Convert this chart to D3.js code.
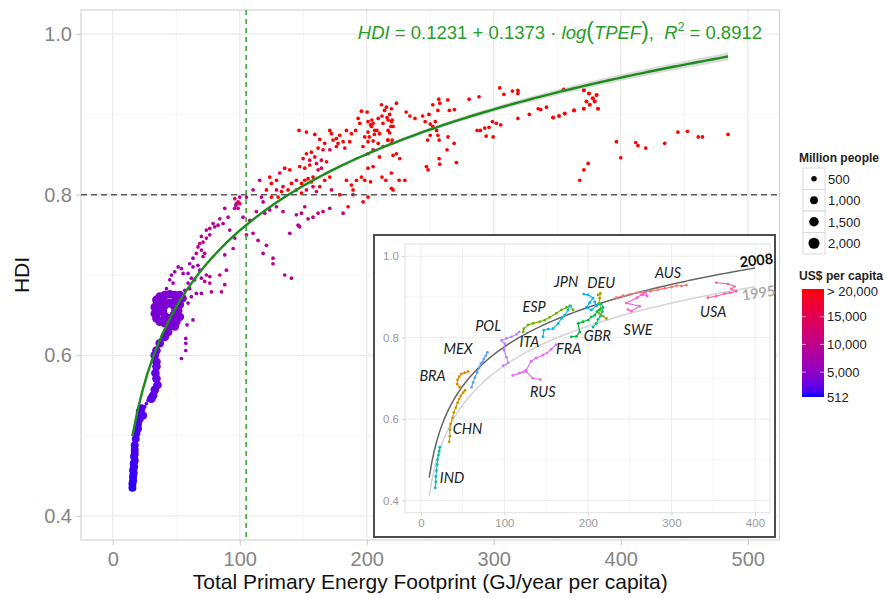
<!DOCTYPE html>
<html>
<head>
<meta charset="utf-8">
<script src="https://cdn.jsdelivr.net/npm/d3@7"></script>
<style>
  body { margin: 0; background: #fff; }
  svg { display: block; font-family: "Liberation Sans", Arial, sans-serif; }
</style>
</head>
<body>
<svg id="chart" width="885" height="598"></svg>
<script>
// ---- main scatter, grouped by income band: [TPEF, HDI] ----
const rich = [
  [304.7,0.933],[308,0.925],[314.7,0.929],[319,0.930],[319,0.926],[280.6,0.919],[288.4,0.922],[256.7,0.919],
  [263.8,0.918],[265,0.905],[256,0.905],[269,0.906],[252,0.912],[257.5,0.914],[223.4,0.914],[211.6,0.912],
  [215.5,0.909],[219.4,0.907],[214,0.905],[204,0.893],[203,0.887],[206,0.875],[202,0.872],[205,0.867],
  [209,0.895],[212,0.898],[216,0.896],[218,0.900],[220,0.893],[219,0.885],[218,0.877],[220,0.868],
  [216.5,0.868],[231,0.903],[234,0.898],[238,0.895],[244,0.898],[246,0.891],[249,0.900],[254,0.891],
  [252,0.885],[250,0.888],[255,0.880],[250,0.874],[248,0.868],[256,0.874],[257,0.868],[264,0.872],
  [268.8,0.864],[263.2,0.856],[257,0.845],[257.5,0.838],[270.6,0.840],[247,0.835],[248.3,0.831],[286.9,0.880],
  [289.5,0.880],[292.9,0.883],[296.3,0.884],[299,0.891],[302,0.889],[305.5,0.887],[294,0.873],[299.5,0.872],
  [367.7,0.818],[371,0.831],[374.3,0.839],[396.6,0.866],[400,0.846],[411.8,0.865],[413.6,0.861],[419.7,0.858],
  [434.6,0.864],[445,0.878],[452.5,0.879],[461,0.872],[464.3,0.872],[484.5,0.875],
  [194.5,0.889],[198.4,0.872],[201,0.866],[203.7,0.885],[205,0.889],[206.3,0.880],[197,0.860],[201,0.851],
  [205,0.856],[209,0.864],[210,0.847],[212.8,0.860],[216.8,0.868],[219.4,0.864],[220.7,0.849],[223.4,0.851],
  [226,0.845],[201,0.833],[205,0.835],[212,0.822],[215,0.818],[219.4,0.827],[219.4,0.808],[220.7,0.806],
  [225.5,0.818],[230,0.818],[203,0.816],[208,0.880],[210,0.876],[216.8,0.880],[220.7,0.885],[212.8,0.889],
  [216.8,0.893],[219.4,0.891],
  [146.7,0.880],[152.5,0.878],[159.1,0.875],[163,0.869],[166.9,0.864],[170.9,0.880],[172.2,0.876],[173.5,0.868],
  [176.1,0.870],[178.7,0.874],[177.4,0.864],[181.4,0.866],[184,0.880],[187.9,0.876],[191.3,0.880],[193.2,0.895],
  [195.8,0.904],[200.3,0.903],[201,0.891],[201,0.878],[186.6,0.866],[182.7,0.858],[176.1,0.860],[165.6,0.856],
  [161.7,0.858],[156.4,0.853],[152.5,0.851],[159.1,0.847],[149.9,0.845],[147.2,0.835],[151.2,0.833],[155.1,0.837],
  [168.3,0.841],[157.7,0.822],[153.8,0.820],[156.4,0.816],[151.2,0.818],[148.6,0.814],[139.4,0.831],[135.4,0.833],
  [128.9,0.818],[123.6,0.822],[124.9,0.814],[138,0.806],[140.7,0.814],[144.6,0.806],[148.6,0.802],[163,0.810],
  [166.9,0.818],[170.9,0.822],[178.7,0.800],[184,0.818],[187.9,0.812],[189.2,0.806],[191.9,0.818],[195.8,0.822],
  [198.4,0.818],[201,0.797],[197.1,0.791],[189.2,0.800],[185.3,0.785],[124.9,0.797],[130.2,0.797],[132.8,0.804],
  [121,0.806]
];
const japanLike = [[319,0.895],[328,0.900],[335,0.907],[337,0.906],[341.5,0.909]];
const upper = [
  [170.9,0.856],[155.1,0.843],[160.4,0.839],[164.3,0.843],[164.3,0.833],[161.7,0.831],[144.6,0.818],[131.5,0.827],
  [128.9,0.806],[134.1,0.810],[152.5,0.806],[157.7,0.810],[160.4,0.804],[172.2,0.806],[96.1,0.795],[98.7,0.791],
  [100,0.789]
];
const middle = [
  [181.4,0.777],[170.9,0.783],[165.6,0.779],[161.7,0.777],[157.7,0.772],[153.8,0.770],[151.2,0.785],[148.6,0.777],
  [144.6,0.775],[145.9,0.762],[147.2,0.760],[134.1,0.779],[128.9,0.785],[123.6,0.781],[119.7,0.777],[117.1,0.797],
  [115.7,0.818],[110.5,0.806],[105.3,0.797],[100,0.797],[97.4,0.789],[96,0.783],[102.6,0.772],[107.9,0.768],
  [113.1,0.779],[118.4,0.791],
  [135.4,0.700],[140.7,0.696],[126.2,0.721],[126.2,0.714],[146.7,0.761],[139.4,0.752],[121,0.737],[118.4,0.727],
  [114.4,0.743],[105.3,0.750],[110.5,0.752],
  [96.9,0.787],[98.7,0.783],[88.2,0.783],[90.8,0.772],[84.3,0.770],[86.9,0.764],[82.9,0.762],[80.3,0.760],
  [79,0.764],[76.4,0.758],[73.7,0.756],[69.8,0.748],[73.7,0.746],[76.4,0.750],[71.1,0.741],[68.5,0.739],
  [67.1,0.735],[69.8,0.731],[72.4,0.727],[71.1,0.723],[65.8,0.727],[88.2,0.725],[89.5,0.706],[94.8,0.733],
  [88.2,0.688],[85.6,0.679],[96.1,0.746],[92.1,0.756],[84.3,0.700],[76.4,0.698],[73.7,0.700],[72.4,0.692],
  [76.4,0.690],[77.7,0.679]
];
const lower = [
  [63.2,0.721],[60.6,0.714],[63.2,0.710],[67.1,0.712],[68.5,0.706],[54.1,0.708],[51.5,0.710],[48.8,0.704],
  [46.2,0.700],[44.9,0.694],[47.5,0.690],[42.3,0.683],[55.4,0.702],[59.3,0.702],[61.9,0.696],[59.3,0.690],
  [64.5,0.694],[69.8,0.696],[65.8,0.677],[61.9,0.673],[56.7,0.681],[60.6,0.683],[69.8,0.677],
  [59.3,0.665],[63.2,0.644],[58.5,0.638],[57.5,0.621],[57.5,0.615],[57.5,0.606],[54.1,0.596]
];
const poor = [[26.5,0.540],[25.2,0.536],[27.8,0.544],[23.9,0.531]];

// band GDP per capita (US$) and population (million)
const bandGdp = [24000, 26000, 15000, 9500, 6500, 2800];
const bandPop = [30, 127, 30, 30, 40, 60];

// big countries: [TPEF, HDI, GDP]
const usa = [
  [346.7,0.896,38000],[351.4,0.898,38000],[355.9,0.901,38000],[363.2,0.905,38000],[370.9,0.907,38000],
  [375.6,0.912,38000],[382.1,0.907,38000],[371,0.930,38000],[375,0.926,38000],[378,0.920,38000],
  [381,0.924,38000],[379.5,0.916,38000],[373,0.916,38000],[355,0.931,38000]
];
const china = [
  [34.4,0.669,4000],[37,0.673,4000],[41,0.675,4000],[44.9,0.676,4000],[48.8,0.675,4000],[52.8,0.675,4000],
  [54.9,0.671,4000],[33.1,0.660,3900],[33.1,0.652,3900],[34.4,0.646,3900],[37,0.642,3900],[41,0.640,3900],
  [46.2,0.640,3900],[50.1,0.642,3900],[52.8,0.648,3900],[51.5,0.656,3900],[37,0.662,4000],[39.6,0.667,4000],
  [48.8,0.667,4000],[52.8,0.663,4000],[35.7,0.654,3900],[47.5,0.648,3900],[42.3,0.642,3800],[44.9,0.636,3700],
  [48.8,0.636,3700],[43.6,0.629,3600],[41,0.623,3400],[37,0.615,3300],[34.4,0.606,3100],[33.1,0.600,3000],
  [34.4,0.592,2900],[34.4,0.586,2800],[33.6,0.578,2700],[34.4,0.571,2600],[35.2,0.563,2500],[33.1,0.557,2400],
  [31.8,0.550,2300],[30.4,0.546,2200],
  [39.5,0.656,4000],[49.5,0.656,4000],[44.5,0.665,4000],[44.5,0.646,3900],[41,0.662,4000],[48,0.662,4000],
  [41,0.649,3900],[48,0.650,3900]
];
const india = [
  [22.6,0.534,2100],[21.3,0.530,2000],[23.9,0.525,2000],[21.3,0.521,1900],[19.9,0.515,1800],[19.9,0.509,1700],
  [18.6,0.503,1700],[18.1,0.496,1600],[17.3,0.488,1500],[17.3,0.482,1500],[17.3,0.477,1400],[16.8,0.474,1400],
  [17.3,0.469,1300],[16.5,0.465,1300],[16.8,0.461,1200],[16,0.457,1200],[16.5,0.453,1100],[16,0.449,1100],
  [16,0.444,1000],[15.5,0.440,1000],[15.5,0.435,900]
];
const chinaPop = 1250, indiaPop = 1050, usaPop = 285;

// fit HDI = a + b*ln(TPEF)
const fitCoef = [0.1231, 0.1373];
const fitRange = [15.5, 484.5];
const xMajor = [0, 100, 200, 300, 400, 500];
const xMinor = [50, 150, 250, 350, 450];
const yMajor = [0.4, 0.6, 0.8, 1.0];
const yMinor = [0.5, 0.7, 0.9];

const sizeKeys = [500, 1000, 1500, 2000];
const colourKeys = [20000, 15000, 10000, 5000, 512];
const colourKeyLabels = ["> 20,000", "15,000", "10,000", "5,000", "512"];

// ---- inset: country trajectories 1995-2008 ----
const AUS = [[234,0.898],[242,0.903],[250,0.906],[258,0.910],[266,0.912],[275,0.914],[284,0.918],[292,0.921],[300,0.924],[306,0.928],[312,0.927],[318,0.929]];
const BRA = [[46.7,0.678],[43.5,0.686],[43.9,0.696],[45.9,0.704],[48.6,0.711],[52.6,0.714],[56.6,0.717]];
const CHN = [[33.9,0.544],[34.7,0.558],[34.7,0.574],[35.5,0.588],[37.9,0.603],[39.5,0.616],[41.9,0.628],[43.9,0.640],[45.9,0.649],[47.8,0.657],[50.6,0.665],[53,0.671]];
const DEU = [[222.1,0.847],[218.1,0.853],[213.3,0.860],[216.1,0.872],[213.3,0.884],[214.1,0.897],[214.9,0.909],[212.1,0.905]];
const ESP = [[122.4,0.814],[123.2,0.822],[128.4,0.831],[134.4,0.835],[142.3,0.839],[148.3,0.843],[154.3,0.850],[162.3,0.860],[168.3,0.868],[174.2,0.874],[179,0.878],[182.2,0.868]];
const FRA = [[180.2,0.802],[186.2,0.803],[190.2,0.814],[188.2,0.835],[194.2,0.839],[200.2,0.843],[204.1,0.851],[208.1,0.855],[210.9,0.864],[214.1,0.869]];
const GBR = [[206.1,0.826],[210.1,0.835],[212.1,0.845],[214.9,0.853],[217.3,0.864],[218.1,0.874],[216.1,0.883],[211,0.880]];
const IND = [[17.1,0.431],[17.9,0.446],[17.9,0.459],[18.7,0.473],[19.5,0.488],[19.9,0.500],[21.1,0.512],[21.9,0.521],[22.7,0.531]];
const ITA = [[146.3,0.802],[147.1,0.818],[152.3,0.821],[158.3,0.822],[164.3,0.835],[168.3,0.847],[172.2,0.855],[176.2,0.868],[178.2,0.878]];
const JPN = [[195,0.907],[200.2,0.905],[206.1,0.897],[202.2,0.886],[198.2,0.874],[204.1,0.868],[210.1,0.878],[208.1,0.888]];
const MEX = [[60.6,0.678],[62.6,0.690],[64.6,0.702],[67.4,0.715],[69.8,0.726],[71.8,0.736],[73.8,0.740],[75.4,0.748],[77.8,0.756],[79.7,0.764]];
const POL = [[98.5,0.731],[104.5,0.738],[102.5,0.752],[99.7,0.769],[100.5,0.785],[96.5,0.793],[102.5,0.798],[108.5,0.802],[114.4,0.808],[117.6,0.814]];
const RUS = [[143,0.697],[134,0.700],[126,0.717],[110,0.707],[118,0.713],[126,0.720],[132,0.742],[138,0.750],[146,0.757],[151,0.762],[156,0.771],[162,0.783]];
const SWE = [[248,0.869],[252,0.865],[262,0.877],[246,0.885],[259,0.898],[264,0.905],[269,0.911],[271,0.902],[266,0.906]];
const USA = [[343.7,0.898],[353.7,0.902],[363.6,0.908],[369.6,0.910],[377.6,0.914],[371.7,0.920],[375.6,0.926],[367.6,0.932],[353.7,0.935]];

const trackData  = [AUS, BRA, CHN, DEU, ESP, FRA, GBR, IND, ITA, JPN, MEX, POL, RUS, SWE, USA];
const trackColours = ["#F8766D","#E58700","#C99800","#A3A500","#6BB100","#00BA38","#00BF7D","#00C0AF",
                      "#00BCD8","#00B0F6","#619CFF","#B983FF","#E76BF3","#FD61D1","#FF67A4"];
// label anchor in inset data units
const insetLabels = [
  ["IND",37.3,0.455],["CHN",55.9,0.575],["BRA",14,0.707],["MEX",44.6,0.773],["POL",80.5,0.829],
  ["ESP",135.5,0.876],["ITA",130,0.791],["JPN",174,0.937],["DEU",216,0.934],["GBR",211.3,0.805],
  ["FRA",177,0.772],["RUS",146,0.666],["SWE",260,0.820],["AUS",296,0.960],["USA",350,0.864]
];
const curve2008 = [0.1346, 0.1396];
const curve1995 = [0.0886, 0.1396];
const curveRange = [10, 400];
const insetXTicks = [0, 100, 200, 300, 400];
const insetXMinor = [50, 150, 250, 350];

// ---------------------------------------------------------------
const svg = d3.select("#chart");

const x = d3.scaleLinear().domain([-25, 525]).range([81, 779.5]);
const y = d3.scaleLinear().domain([0.37, 1.03]).range([540, 10]);
const colour = d3.scaleLinear().domain([512, 20000]).range(["#0000ff", "#ff0000"])
                 .interpolate(d3.interpolateLab).clamp(true);
const size = d3.scaleSqrt().domain([0, 2000]).range([0, 5.5]);
const radius = p => Math.max(1.85, size(p));

const [x0, x1] = x.range();
const [yb, yt] = y.range();

// grid
const grid = svg.append("g");
grid.selectAll(".vmin").data(xMinor).join("line")
    .attr("x1", d => x(d)).attr("x2", d => x(d)).attr("y1", yt).attr("y2", yb)
    .attr("stroke", "#f4f4f4").attr("stroke-width", 1);
grid.selectAll(".hmin").data(yMinor).join("line")
    .attr("x1", x0).attr("x2", x1).attr("y1", d => y(d)).attr("y2", d => y(d))
    .attr("stroke", "#f4f4f4").attr("stroke-width", 1);
grid.selectAll(".vmaj").data(xMajor).join("line")
    .attr("x1", d => x(d)).attr("x2", d => x(d)).attr("y1", yt).attr("y2", yb)
    .attr("stroke", "#ebebeb").attr("stroke-width", 1.3);
grid.selectAll(".hmaj").data(yMajor).join("line")
    .attr("x1", x0).attr("x2", x1).attr("y1", d => y(d)).attr("y2", d => y(d))
    .attr("stroke", "#ebebeb").attr("stroke-width", 1.3);
svg.append("rect").attr("x", x0).attr("y", yt).attr("width", x1 - x0).attr("height", yb - yt)
   .attr("fill", "none").attr("stroke", "#d4d4d4").attr("stroke-width", 1.2);

// axes
const xAxis = svg.append("g").attr("transform", `translate(0,${yb})`)
  .call(d3.axisBottom(x).tickValues(xMajor).tickSize(5).tickPadding(7));
const yAxis = svg.append("g").attr("transform", `translate(${x0},0)`)
  .call(d3.axisLeft(y).tickValues(yMajor).tickFormat(d3.format(".1f")).tickSize(5).tickPadding(4));
[xAxis, yAxis].forEach(a => {
  a.select(".domain").remove();
  a.selectAll(".tick line").attr("stroke", "#c8c8c8");
  a.selectAll(".tick text").attr("fill", "#858585").attr("font-size", 20)
   .attr("font-family", "Liberation Sans, Arial, sans-serif");
});

svg.append("text").attr("x", (x0 + x1) / 2).attr("y", 589).attr("text-anchor", "middle")
   .attr("font-size", 21).attr("fill", "#111").text("Total Primary Energy Footprint (GJ/year per capita)");
svg.append("text").attr("transform", `translate(29,${(yt + yb) / 2}) rotate(-90)`)
   .attr("text-anchor", "middle").attr("font-size", 21).attr("fill", "#111").text("HDI");

// points
const bands = [rich, japanLike, upper, middle, lower, poor];
const pts = [];
bands.forEach((b, i) => b.forEach(p => pts.push({ tpef: p[0], hdi: p[1], gdp: bandGdp[i], pop: bandPop[i] })));
usa.forEach(p => pts.push({ tpef: p[0], hdi: p[1], gdp: p[2], pop: usaPop }));
india.forEach(p => pts.push({ tpef: p[0], hdi: p[1], gdp: p[2], pop: indiaPop }));
china.forEach(p => pts.push({ tpef: p[0], hdi: p[1], gdp: p[2], pop: chinaPop }));

svg.append("g").selectAll("circle").data(pts).join("circle")
   .attr("cx", d => x(d.tpef)).attr("cy", d => y(d.hdi))
   .attr("r", d => radius(d.pop)).attr("fill", d => colour(d.gdp));

// reference lines
svg.append("line").attr("x1", x0).attr("x2", x1).attr("y1", y(0.8)).attr("y2", y(0.8))
   .attr("stroke", "#595959").attr("stroke-width", 1.6).attr("stroke-dasharray", "6,4");
svg.append("line").attr("x1", x(105)).attr("x2", x(105)).attr("y1", yt).attr("y2", yb)
   .attr("stroke", "#3aa63a").attr("stroke-width", 1.6).attr("stroke-dasharray", "5,4");

// fit curve + confidence band
const fitX = d3.range(fitRange[0], fitRange[1] + 0.01, (fitRange[1] - fitRange[0]) / 120);
const fitY = t => fitCoef[0] + fitCoef[1] * Math.log(t);
const halfW = t => 0.0012 + 0.0038 * Math.pow((Math.log(t) - 4.6) / 1.6, 2);
svg.append("path").datum(fitX)
   .attr("d", d3.area().x(d => x(d)).y0(d => y(fitY(d) - halfW(d))).y1(d => y(fitY(d) + halfW(d))))
   .attr("fill", "#999").attr("opacity", 0.35);
svg.append("path").datum(fitX)
   .attr("d", d3.line().x(d => x(d)).y(d => y(fitY(d))))
   .attr("fill", "none").attr("stroke", "#1c8c1c").attr("stroke-width", 2.4);

// equation
const eq = svg.append("text").attr("x", 762).attr("y", 39).attr("text-anchor", "end")
  .attr("font-size", 18.5).attr("fill", "#2a9d2a");
[["HDI", true], [" = 0.1231 + 0.1373 \u00b7 ", false], ["log", true]].forEach(([t, it]) =>
  eq.append("tspan").attr("font-style", it ? "italic" : "normal").text(t));
eq.append("tspan").attr("font-size", 23).text("(");
eq.append("tspan").attr("font-style", "italic").text("TPEF");
eq.append("tspan").attr("font-size", 23).text(")");
eq.append("tspan").text(",\u00a0\u00a0");
eq.append("tspan").attr("font-style", "italic").text("R");
eq.append("tspan").attr("font-size", 12).attr("dy", -8).text("2");
eq.append("tspan").attr("dy", 8).text(" = 0.8912");

// ---- legends ----
const lg = svg.append("g").attr("font-size", 13).attr("fill", "#222");
lg.append("text").attr("x", 799).attr("y", 162).attr("font-weight", "bold").attr("font-size", 12)
  .text("Million people");
sizeKeys.forEach((k, i) => {
  const top = 168 + i * 21.5;
  lg.append("rect").attr("x", 803).attr("y", top).attr("width", 22).attr("height", 21.5)
    .attr("fill", "#fff").attr("stroke", "#d9d9d9");
  lg.append("circle").attr("cx", 814).attr("cy", top + 10.75).attr("r", size(k)).attr("fill", "#000");
  lg.append("text").attr("x", 828).attr("y", top + 15.5).text(d3.format(",")(k));
});

lg.append("text").attr("x", 799).attr("y", 280).attr("font-weight", "bold").attr("font-size", 12)
  .attr("textLength", 84).attr("lengthAdjust", "spacingAndGlyphs").text("US$ per capita");
const barTop = 289, barBot = 397;
const cbar = d3.scaleLinear().domain([512, 20000]).range([barBot, barTop]);
const grad = svg.append("defs").append("linearGradient").attr("id", "gdpGrad")
  .attr("x1", 0).attr("x2", 0).attr("y1", 1).attr("y2", 0);
d3.range(0, 1.001, 0.05).forEach(t => {
  grad.append("stop").attr("offset", t).attr("stop-color", colour(512 + t * (20000 - 512)));
});
lg.append("rect").attr("x", 802).attr("y", barTop).attr("width", 22).attr("height", barBot - barTop)
  .attr("fill", "url(#gdpGrad)");
colourKeys.forEach((k, i) => {
  const yy = cbar(k);
  if (i > 0 && i < colourKeys.length - 1) {
    lg.append("line").attr("x1", 802).attr("x2", 806).attr("y1", yy).attr("y2", yy).attr("stroke", "#fff").attr("opacity", 0.6);
    lg.append("line").attr("x1", 820).attr("x2", 824).attr("y1", yy).attr("y2", yy).attr("stroke", "#fff").attr("opacity", 0.6);
  }
  lg.append("text").attr("x", 827).attr("y", i === 0 ? yy + 7 : yy + 4.5).text(colourKeyLabels[i]);
});

// ---- inset ----
const ins = svg.append("g");
ins.append("rect").attr("x", 374).attr("y", 235).attr("width", 401).attr("height", 302)
   .attr("fill", "#fff").attr("stroke", "#4d4d4d").attr("stroke-width", 2);

const ix = d3.scaleLinear().domain([-19, 418]).range([405, 770]);
const iy = d3.scaleLinear().domain([0.37, 1.03]).range([512.7, 244]);
const [ix0, ix1] = ix.range();
const [iyb, iyt] = iy.range();

ins.selectAll(".ivmin").data(insetXMinor).join("line")
   .attr("x1", d => ix(d)).attr("x2", d => ix(d)).attr("y1", iyt).attr("y2", iyb).attr("stroke", "#f4f4f4");
ins.selectAll(".ihmin").data(yMinor).join("line")
   .attr("x1", ix0).attr("x2", ix1).attr("y1", d => iy(d)).attr("y2", d => iy(d)).attr("stroke", "#f4f4f4");
ins.selectAll(".ivmaj").data(insetXTicks).join("line")
   .attr("x1", d => ix(d)).attr("x2", d => ix(d)).attr("y1", iyt).attr("y2", iyb).attr("stroke", "#ebebeb");
ins.selectAll(".ihmaj").data(yMajor).join("line")
   .attr("x1", ix0).attr("x2", ix1).attr("y1", d => iy(d)).attr("y2", d => iy(d)).attr("stroke", "#ebebeb");
ins.append("rect").attr("x", ix0).attr("y", iyt).attr("width", ix1 - ix0).attr("height", iyb - iyt)
   .attr("fill", "none").attr("stroke", "#e2e2e2");

const ixAxis = ins.append("g").attr("transform", `translate(0,${iyb})`)
  .call(d3.axisBottom(ix).tickValues(insetXTicks).tickSize(3).tickPadding(3));
const iyAxis = ins.append("g").attr("transform", `translate(${ix0},0)`)
  .call(d3.axisLeft(iy).tickValues(yMajor).tickFormat(d3.format(".1f")).tickSize(3).tickPadding(3));
[ixAxis, iyAxis].forEach(a => {
  a.select(".domain").remove();
  a.selectAll(".tick line").attr("stroke", "#d0d0d0");
  a.selectAll(".tick text").attr("fill", "#9a9a9a").attr("font-size", 11.5)
   .attr("font-family", "Liberation Sans, Arial, sans-serif");
});

const cX = d3.range(curveRange[0], curveRange[1] + 0.01, 3);
const logCurve = c => d3.line().x(d => ix(d)).y(d => iy(c[0] + c[1] * Math.log(d)));
ins.append("path").datum(cX).attr("d", logCurve(curve1995))
   .attr("fill", "none").attr("stroke", "#d4d4d4").attr("stroke-width", 1.5);
ins.append("path").datum(cX).attr("d", logCurve(curve2008))
   .attr("fill", "none").attr("stroke", "#666").attr("stroke-width", 1.5);

trackData.forEach((pts, i) => {
  const g = ins.append("g");
  g.append("path").datum(pts)
   .attr("d", d3.line().x(d => ix(d[0])).y(d => iy(d[1])))
   .attr("fill", "none").attr("stroke", trackColours[i]).attr("stroke-width", 1.1);
  g.selectAll("circle").data(pts).join("circle")
   .attr("cx", d => ix(d[0])).attr("cy", d => iy(d[1])).attr("r", 1.4).attr("fill", trackColours[i]);
});

ins.selectAll(".clab").data(insetLabels).join("text")
   .attr("x", d => ix(d[1])).attr("y", d => iy(d[2])).attr("dy", "0.36em")
   .attr("text-anchor", "middle").attr("font-family", "Lato, 'Open Sans', sans-serif")
   .attr("font-style", "italic").attr("font-size", 14.5).attr("fill", "#1e1e1e")
   .text(d => d[0]);

ins.append("text").attr("transform", `translate(${ix(401.6)},${iy(0.99)}) rotate(-6)`)
   .attr("dy", "0.36em").attr("text-anchor", "middle").attr("font-family", "Lato, sans-serif")
   .attr("font-weight", "bold").attr("font-size", 14.5).attr("fill", "#111").text("2008");
ins.append("text").attr("transform", `translate(${ix(404.3)},${iy(0.91)}) rotate(-8)`)
   .attr("dy", "0.36em").attr("text-anchor", "middle").attr("font-family", "Lato, sans-serif")
   .attr("font-weight", "bold").attr("font-size", 14.5).attr("fill", "#ababab").text("1995");
</script>
</body>
</html>
